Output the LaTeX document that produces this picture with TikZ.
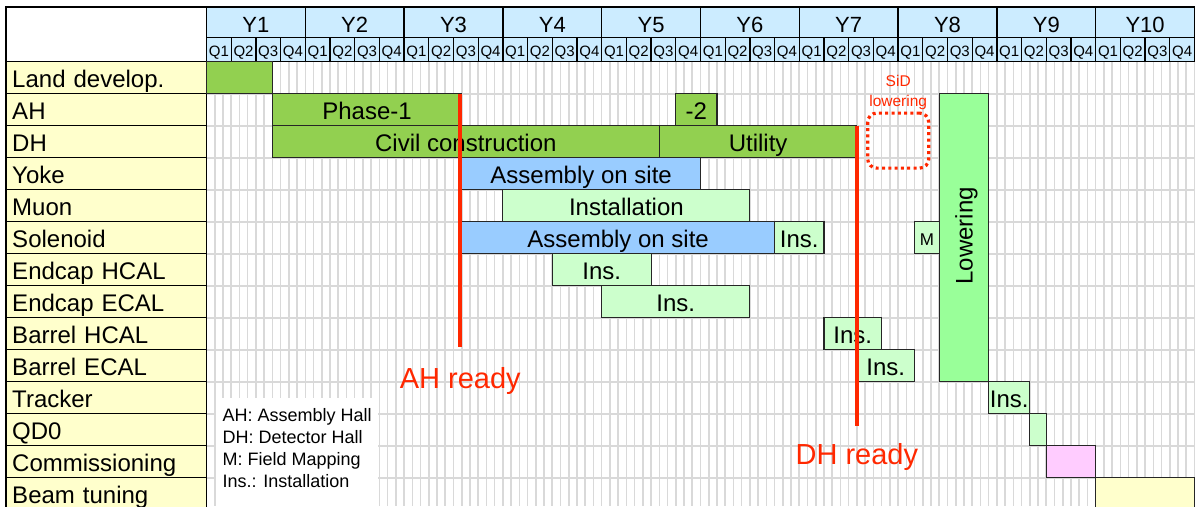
\documentclass[tikz,border=0pt]{standalone}
\usepackage{fontspec}
\setmainfont{Liberation Sans}
\usetikzlibrary{calc}
\definecolor{headblue}{RGB}{204,236,255}
\definecolor{rowyellow}{RGB}{255,255,204}
\definecolor{dkgreen}{RGB}{146,208,80}
\definecolor{asmblue}{RGB}{153,204,255}
\definecolor{ltgreen}{RGB}{204,255,204}
\definecolor{lowgreen}{RGB}{153,255,153}
\definecolor{pinkc}{RGB}{255,204,255}
\definecolor{gridgray}{RGB}{217,217,217}
\definecolor{redc}{RGB}{255,40,0}
\newcommand\gbar[6]{%
  \node[bar,#5,minimum width={(#3-#2)*8.233pt}] (#1) at ({206.5+(#2+#3)/2*8.233},{61.8+(#4+0.5)*32}) {#6};}
\newcommand\rowlbl[3]{%
  \node[rowcell] (#1) at (106.25,{61.8+(#2+0.5)*32}) {#3};}
\begin{document}
\begin{tikzpicture}[x=1pt,y=-1pt,
  gridline/.style={draw=gridgray,line width=1.6pt},
  cell/.style={draw=black,line width=1.3pt,inner sep=0pt,outer sep=0pt},
  yearcell/.style={cell,fill=headblue,minimum width=98.8pt,minimum height=30.7pt,text height=19.9pt,text depth=0pt,font=\fontsize{22}{24}\selectfont},
  qcell/.style={cell,fill=headblue,minimum width=24.7pt,minimum height=23.8pt,text height=14.2pt,text depth=0pt,font=\fontsize{15}{17}\selectfont},
  rowcell/.style={cell,fill=rowyellow,minimum width=200.5pt,minimum height=32pt,text width=188pt,align=left,text height=19pt,text depth=0pt,font=\fontsize{24}{28}\selectfont},
  bar/.style={draw=black!85,line width=1.1pt,inner sep=0pt,outer sep=0pt,minimum height=32pt,text height=19pt,text depth=0pt,font=\fontsize{24}{28}\selectfont},
  dg/.style={fill=dkgreen},
  bl/.style={fill=asmblue},
  lg/.style={fill=ltgreen},
  pk/.style={fill=pinkc},
  yl/.style={fill=rowyellow},
  redline/.style={draw=redc,line width=3.8pt},
  readytext/.style={text=redc,inner sep=0pt,font=\fontsize{29}{32}\selectfont},
  sidbox/.style={draw=redc,line width=3.2pt,dash pattern=on 3pt off 3.3pt,rounded corners=9pt,inner sep=0pt,minimum width=61pt,minimum height=55pt},
  sidtext/.style={text=redc,inner sep=0pt,align=center,font=\fontsize{15.5}{20}\selectfont},
  legtext/.style={inner sep=0pt,font=\fontsize{18}{22}\selectfont}]
\useasboundingbox (0,0) rectangle (1196,506);
\fill[white] (0,0) rectangle (1196,506);
% grid
\foreach \m in {1,...,119} \draw[gridline] ({206.5+\m*8.233},61.8) -- ({206.5+\m*8.233},506);
\foreach \r in {1,...,14} \draw[gridline] (206.5,{61.8+\r*32}) -- (1194.5,{61.8+\r*32});
\draw[gridline] (1194.5,61.8) -- (1194.5,506);
% header
\draw[black,line width=1.3pt] (6,61.8) -- (6,7) -- (206.5,7);
\foreach \i in {1,...,10} \node[yearcell] (y\i) at ({206.5+(\i-0.5)*98.796},22.35) {Y\i};
\foreach \i in {0,...,39}{\pgfmathtruncatemacro\qn{mod(\i,4)+1}
  \node[qcell] (q\i) at ({206.5+(\i+0.5)*24.699},49.6) {Q\qn};}
% row labels
\rowlbl{r0}{0}{Land develop.}
\rowlbl{r1}{1}{AH}
\rowlbl{r2}{2}{DH}
\rowlbl{r3}{3}{Yoke}
\rowlbl{r4}{4}{Muon}
\rowlbl{r5}{5}{Solenoid}
\rowlbl{r6}{6}{Endcap HCAL}
\rowlbl{r7}{7}{Endcap ECAL}
\rowlbl{r8}{8}{Barrel HCAL}
\rowlbl{r9}{9}{Barrel ECAL}
\rowlbl{r10}{10}{Tracker}
\rowlbl{r11}{11}{QD0}
\rowlbl{r12}{12}{Commissioning}
\rowlbl{r13}{13}{Beam tuning}
% bars
\gbar{land}{0}{8}{0}{dg}{}
\gbar{phase1}{8}{31}{1}{dg}{Phase-1}
\gbar{phase2}{57}{62}{1}{dg}{-2}
\gbar{civil}{8}{55}{2}{dg}{Civil construction}
\gbar{utility}{55}{79}{2}{dg}{Utility}
\gbar{yoke}{31}{60}{3}{bl}{Assembly on site}
\gbar{muon}{36}{66}{4}{lg}{Installation}
\gbar{sol}{31}{69}{5}{bl}{Assembly on site}
\gbar{solins}{69}{75}{5}{lg}{Ins.}
\gbar{solm}{86}{89}{5}{lg,font=\fontsize{17}{20}\selectfont,text height=15pt}{M}
\gbar{ehcal}{42}{54}{6}{lg}{Ins.}
\gbar{eecal}{48}{66}{7}{lg}{Ins.}
\gbar{bhcal}{75}{82}{8}{lg}{Ins.}
\gbar{becal}{79}{86}{9}{lg}{Ins.}
\gbar{tracker}{95}{100}{10}{lg}{Ins.}
\gbar{qd0}{100}{102}{11}{lg}{}
\gbar{comm}{102}{108}{12}{pk}{}
\gbar{beam}{108}{120}{13}{yl}{}
\node[bar,fill=lowgreen,minimum width={6*8.233pt},minimum height=288pt] (lower) at ({206.5+92*8.233},{61.8+5.5*32}) {};
\node[rotate=90,inner sep=0pt,text height=17.2pt,text depth=0pt,font=\fontsize{24}{28}\selectfont] (lowerlbl) at ($(lower.center)+(0,-2)$) {Lowering};
% SiD lowering
\node[sidbox] (sid) at (898.2,140.6) {};
\node[sidtext,anchor=south,yshift=1.5pt] (sidlbl) at (sid.north) {SiD\\lowering};
% legend
\node[fill=white,inner sep=0pt,minimum width=162pt,minimum height=110pt,anchor=north west] (legbox) at (216,398) {};
\node[legtext,anchor=base west] (leg1) at (222.5,421.7) {AH: Assembly Hall};
\node[legtext,anchor=base west] (leg2) at (222.5,443.7) {DH: Detector Hall};
\node[legtext,anchor=base west] (leg3) at (222.5,465.7) {M: Field Mapping};
\node[legtext,anchor=base west] (leg4) at (222.5,487.7) {Ins.: Installation};
% ready lines
\coordinate (ahend) at ($(phase1.north east)+(-1.5,253)$);
\coordinate (dhend) at ($(utility.north east)+(0,300)$);
\draw[redline] ($(phase1.north east)+(-1.5,0)$) -- (ahend);
\draw[redline] (utility.north east) -- (dhend);
\node[readytext,anchor=base] (ahready) at ($(ahend)+(0,42)$) {AH ready};
\node[readytext,anchor=base] (dhready) at ($(dhend)+(0,39)$) {DH ready};
\end{tikzpicture}
\end{document}
